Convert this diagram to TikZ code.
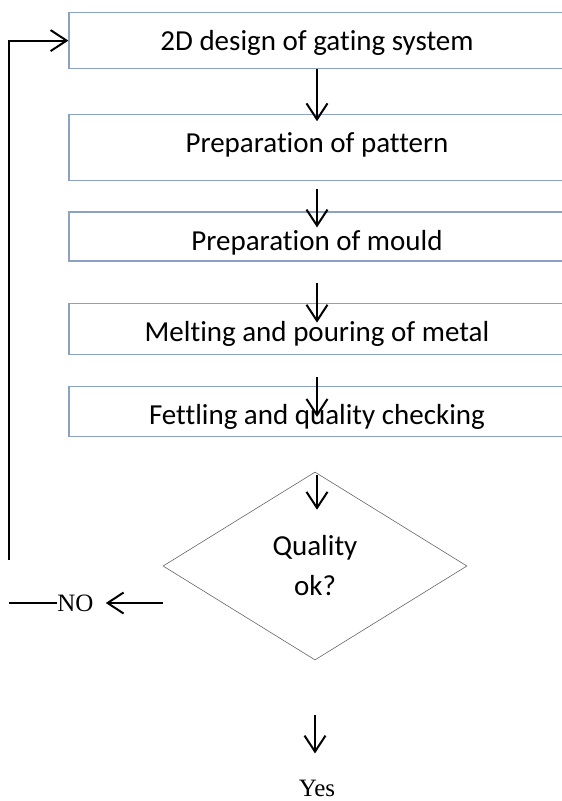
\documentclass[tikz,border=0pt]{standalone}
\usepackage{fontspec}
\setmainfont[Ligatures=NoCommon]{Carlito}
\newfontfamily\timesfont{Liberation Serif}
\usetikzlibrary{positioning,shapes.geometric,arrows.meta}
\definecolor{boxline}{RGB}{140,162,196}
\tikzset{
  stepbox/.style={draw=boxline, line width=1.2pt, minimum width=496pt, inner xsep=0pt, inner ysep=0pt,
    text height=38pt, font=\fontsize{29}{35}\selectfont},
  decision/.style={diamond, draw=black!60, line width=0.6pt, minimum width=304pt, minimum height=188pt,
    aspect=1.62, inner sep=0pt, align=center, font=\fontsize{29}{40}\selectfont},
  flow/.style={line width=2pt, -{Straight Barb[length=16pt,width=21pt]}},
  plainline/.style={line width=2pt},
  answer/.style={inner sep=0pt, font=\timesfont\fontsize{25}{30}\selectfont}
}
\begin{document}
\begin{tikzpicture}[x=1pt,y=-1pt]
\useasboundingbox (0,0) rectangle (562,801);
\node (design) [stepbox, text depth=18pt, anchor=north] at (317,12) {2D design of gating system};
\node (pattern) [stepbox, text depth=28pt, below=45pt of design] {Preparation of pattern};
\node (mould) [stepbox, text depth=11pt, below=30pt of pattern] {Preparation of mould};
\node (metal) [stepbox, text depth=13pt, below=41pt of mould] {Melting and pouring of metal};
\node (fettle) [stepbox, text depth=12pt, below=31pt of metal] {Fettling and quality checking};
\node (check) [decision] at (315,566) {Quality\\ok?};
\node (no) [answer] at (75.5,603) {NO};
\node (yes) [answer, anchor=base] at (317,796) {Yes};
\coordinate (loopfoot) at (9,560);

\draw [flow, shorten >=-7pt] (design) -- (pattern);
\draw [flow, shorten <=8pt, shorten >=-16pt] (pattern) -- (mould);
\draw [flow, shorten <=21pt, shorten >=-20pt] (mould) -- (metal);
\draw [flow, shorten <=22pt, shorten >=-31pt] (metal) -- (fettle);
\draw [flow, shorten <=38pt, shorten >=-38pt] (fettle.south) -- (fettle.south |- check.north);
\draw [flow, shorten <=55pt, shorten >=26pt] (check.south) -- (check.south |- yes.north);
\draw [flow, shorten >=12pt] (check.west |- no) -- (no);
\draw [plainline] (no) -- (no -| loopfoot);
\draw [flow] (loopfoot) |- (design);
\end{tikzpicture}
\end{document}
